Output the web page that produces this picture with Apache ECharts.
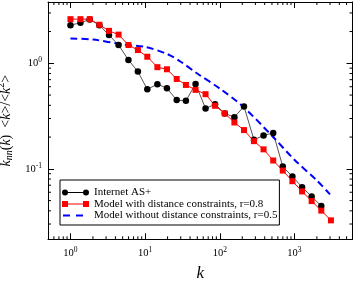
<!DOCTYPE html>
<html><head><meta charset="utf-8">
<script src="https://cdn.jsdelivr.net/npm/echarts@6/dist/echarts.min.js"></script>
<style>html,body{margin:0;padding:0;background:#fff}#c{width:354px;height:283px}</style>
</head><body><div id="c"></div>
<script>
// ---- data ----
const internetK = [1,1.36,1.81,2.44,3.28,4.41,5.98,8.0,10.7,14.6,19.6,26.5,35.2,47.4,64.5,86.5,116.6,157,211,287,386,520,698,940,1267,1701,2291];
const internetV = [2.30,2.42,2.60,2.30,1.85,1.49,1.075,0.836,0.567,0.634,0.581,0.448,0.441,0.638,0.373,0.409,0.335,0.309,0.390,0.189,0.207,0.219,0.105,0.0846,0.067,0.0548,0.0444];
const modelDistK = [1,1.36,1.81,2.44,3.28,4.41,5.98,8.0,10.7,14.6,19.6,26.5,35.2,47.4,64.5,86.5,116.6,157,211,287,386,520,698,940,1267,1701,2291,3085];
const modelDistV = [2.62,2.62,2.62,2.32,2.03,1.87,1.49,1.335,1.154,0.919,0.878,0.711,0.624,0.560,0.510,0.396,0.335,0.275,0.233,0.183,0.153,0.120,0.0963,0.0764,0.0611,0.0495,0.0402,0.0325];
const modelNoDistK = [1,2,5,10,20,30,50,100,200,500,1000,2000,3000];
const modelNoDistV = [1.72,1.68,1.51,1.43,1.22,1.035,0.80,0.577,0.395,0.206,0.122,0.0776,0.0573];
const seriesNames = ['Internet AS+','Model with distance constraints, r=0.8','Model without distance constraints, r=0.5'];
const xTickExps = [0,1,2,3];
const yTickExps = [-1,0];
const xMinorTicks = [0.6,0.7,0.8,0.9,2,3,4,5,6,7,8,9,20,30,40,50,60,70,80,90,200,300,400,500,600,700,800,900,2000,3000,4000,5000];
const yMinorTicks = [0.03,0.04,0.05,0.06,0.07,0.08,0.09,0.2,0.3,0.4,0.5,0.6,0.7,0.8,0.9,2,3];

const FONT = 'Liberation Serif';
const zip = (a,b) => a.map((v,i)=>[v,b[i]]);

function powLabel(exps){
  return function(v){
    const e = Math.round(Math.log10(v));
    if (Math.abs(Math.log10(v)-e) > 1e-6 || exps.indexOf(e) < 0) return '';
    return '{b|10}{s|' + (e < 0 ? '-' + (-e) : e) + '}';
  };
}
const labelRich = {
  b:{fontFamily:FONT,fontSize:10.5,color:'#000',lineHeight:11},
  s:{fontFamily:FONT,fontSize:7.5,color:'#000',lineHeight:8,padding:[0,0,6,0]}
};

function minorX(params, api){
  const cs = params.coordSys;
  const x = api.coord([api.value(0), 1])[0];
  const yb = cs.y + cs.height, yt = cs.y;
  return {type:'group', children:[
    {type:'line', shape:{x1:x,y1:yb,x2:x,y2:yb-3}, style:{stroke:'#000',lineWidth:1}},
    {type:'line', shape:{x1:x,y1:yt,x2:x,y2:yt+3}, style:{stroke:'#000',lineWidth:1}}
  ]};
}
function minorY(params, api){
  const cs = params.coordSys;
  const y = api.coord([1, api.value(1)])[1];
  const xl = cs.x, xr = cs.x + cs.width;
  return {type:'group', children:[
    {type:'line', shape:{x1:xl,y1:y,x2:xl+3,y2:y}, style:{stroke:'#000',lineWidth:1}},
    {type:'line', shape:{x1:xr,y1:y,x2:xr-3,y2:y}, style:{stroke:'#000',lineWidth:1}}
  ]};
}

const iconBlack = 'path://M0,3A3,3 0 1,1 6,3A3,3 0 1,1 0,3Z M5,2.5L22,2.5L22,3.5L5,3.5Z M21,3A3,3 0 1,1 27,3A3,3 0 1,1 21,3Z';
const iconRed = 'path://M0,0L6,0L6,6L0,6Z M5,2.5L22,2.5L22,3.5L5,3.5Z M21,0L27,0L27,6L21,6Z';
const iconBlue = 'path://M0,0L0.01,0L0,0.01Z M27,6L26.99,6L27,5.99Z M1,2L8,2L8,4L1,4Z M14,2L21,2L21,4L14,4Z';

function axisCommon(extra){
  return Object.assign({
    type:'log', logBase:10,
    axisLine:{show:true,lineStyle:{color:'#000',width:1}},
    axisTick:{show:true,inside:true,length:6,lineStyle:{color:'#000',width:1}},
    splitLine:{show:false}, minorTick:{show:false}, minorSplitLine:{show:false}
  }, extra);
}

const chart = echarts.init(document.getElementById('c'), null, {renderer:'canvas'});
chart.setOption({
  animation:false,
  backgroundColor:'#fff',
  grid:{left:48, top:2, right:1.5, bottom:43.7, containLabel:false, outerBoundsMode:'none'},
  legend:{
    orient:'vertical', left:60, top:180,
    data:[{name:seriesNames[0],icon:iconBlack},{name:seriesNames[1],icon:iconRed},{name:seriesNames[2],icon:iconBlue}],
    itemWidth:27, itemHeight:6, itemGap:0.5,
    padding:[7,2,4,2],
    backgroundColor:'#fff', borderColor:'#000', borderWidth:1,
    textStyle:{fontFamily:FONT,fontSize:11,color:'#000',lineHeight:11}
  },
  xAxis:[
    axisCommon({min:0.5,max:6000,position:'bottom',
      axisLabel:{formatter:powLabel(xTickExps),rich:labelRich,margin:8,showMinLabel:false,showMaxLabel:false},
      name:'k', nameLocation:'middle', nameGap:17,
      nameTextStyle:{fontFamily:FONT,fontStyle:'italic',fontSize:17,color:'#000'}}),
    axisCommon({min:0.5,max:6000,position:'top',axisLabel:{show:false}})
  ],
  yAxis:[
    axisCommon({min:0.0215,max:3.81,position:'left',
      axisLabel:{formatter:powLabel(yTickExps),rich:labelRich,margin:6,showMinLabel:false,showMaxLabel:false},
      name:'{i|k}{sub|nn}{n|(}{i|k}{n|)  <}{i|k}{n|>/<}{i|k}{sup|2}{n|>}',
      nameLocation:'middle', nameRotate:90, nameGap:30,
      nameTextStyle:{rich:{
        i:{fontFamily:FONT,fontStyle:'italic',fontSize:14,color:'#000'},
        n:{fontFamily:FONT,fontSize:14,color:'#000'},
        sub:{fontFamily:FONT,fontStyle:'italic',fontSize:10,color:'#000',padding:[7,0,0,0]},
        sup:{fontFamily:FONT,fontSize:10,color:'#000',padding:[0,0,9,0]}
      }}}),
    axisCommon({min:0.0215,max:3.81,position:'right',axisLabel:{show:false}})
  ],
  series:[
    {name:seriesNames[0], type:'line', data:zip(internetK,internetV),
      symbol:'circle', symbolSize:6.5, color:'#000',
      lineStyle:{color:'#555',width:1}, itemStyle:{color:'#000'}},
    {name:seriesNames[1], type:'line', data:zip(modelDistK,modelDistV),
      symbol:'rect', symbolSize:6, color:'#ff0000',
      lineStyle:{color:'#ff0000',width:1}, itemStyle:{color:'#ff0000'}},
    {name:seriesNames[2], type:'line', data:zip(modelNoDistK,modelNoDistV),
      symbol:'none', smooth:0.3, color:'#0000ff', itemStyle:{color:'#0000ff'},
      lineStyle:{color:'#0000ff',width:2,type:[7,4]}},
    {type:'custom', renderItem:minorX, data:xMinorTicks.map(v=>[v,1]), silent:true, z:5},
    {type:'custom', renderItem:minorY, data:yMinorTicks.map(v=>[1,v]), silent:true, z:5}
  ]
});
</script></body></html>
